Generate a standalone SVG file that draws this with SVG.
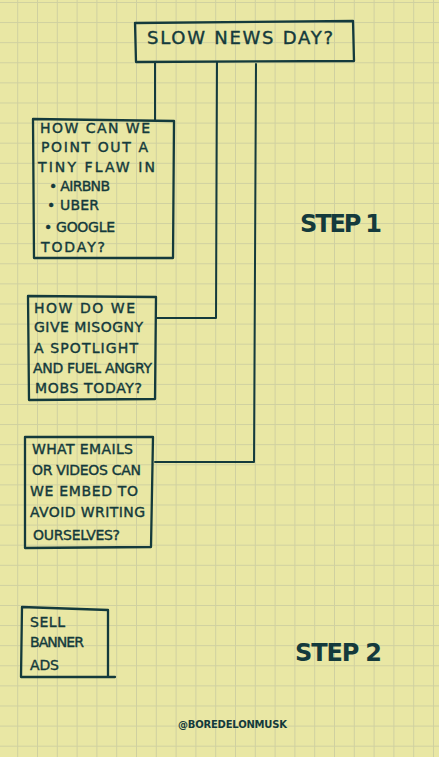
<svg xmlns="http://www.w3.org/2000/svg" width="439" height="757" viewBox="0 0 439 757">
<defs>
<pattern id="grid" x="-2.6" y="2" width="19.8" height="20.1" patternUnits="userSpaceOnUse">
<path d="M0 0.5 H19.8 M0.5 0 V20.1" fill="none" stroke="#cfd0a0" stroke-width="1"/>
</pattern>
<style>
.box{fill:none;stroke:#143a3c;stroke-width:2.3;stroke-linejoin:round;stroke-linecap:round}
.con{fill:none;stroke:#143a3c;stroke-width:2;stroke-linecap:round;stroke-linejoin:round}
.t{font-family:"DejaVu Sans","Liberation Sans",sans-serif;font-size:14px;fill:#143a3c;stroke:#143a3c;stroke-width:0.4}
.big{font-family:"DejaVu Sans","Liberation Sans",sans-serif;font-size:24px;font-weight:bold;fill:#143a3c}
.title{font-family:"DejaVu Sans","Liberation Sans",sans-serif;font-size:18px;fill:#143a3c;stroke:#143a3c;stroke-width:0.4}
.sig{font-family:"DejaVu Sans","Liberation Sans",sans-serif;font-size:10px;font-weight:bold;fill:#143a3c}
</style>
</defs>
<rect width="439" height="757" fill="#e9e7a4"/>
<rect width="439" height="757" fill="url(#grid)"/>

<g id="connectors">
<path class="con" d="M155 62 V120"/>
<path class="con" d="M217 62 L216 318 H156"/>
<path class="con" d="M256 64 L254 462 H155"/>
</g>

<g id="slow-news-day">
<path class="box" d="M135 23 L353 21 L354 61 L136 62 Z"/>
<text class="title" x="147" y="44" textLength="186" lengthAdjust="spacing">SLOW NEWS DAY?</text>
</g>

<g id="flaw">
<path class="box" d="M33 119 L174 121 L173 258 L34 258 Z"/>
<text class="t" x="40" y="133" textLength="110" lengthAdjust="spacing">HOW CAN WE</text>
<text class="t" x="41" y="152" textLength="107" lengthAdjust="spacing">POINT OUT A</text>
<text class="t" x="38" y="172" textLength="117" lengthAdjust="spacing">TINY FLAW IN</text>
<text class="t" x="49" y="191" textLength="61" lengthAdjust="spacing">• AIRBNB</text>
<text class="t" x="47" y="210" textLength="52" lengthAdjust="spacing">• UBER</text>
<text class="t" x="44" y="232" textLength="71" lengthAdjust="spacing">• GOOGLE</text>
<text class="t" x="41" y="252" textLength="64" lengthAdjust="spacing">TODAY?</text>
</g>

<g id="misogny">
<path class="box" d="M28 296 L156 297 L155 399 L29 400 Z"/>
<text class="t" x="34" y="313" textLength="101" lengthAdjust="spacing">HOW DO WE</text>
<text class="t" x="34" y="332" textLength="109" lengthAdjust="spacing">GIVE MISOGNY</text>
<text class="t" x="34" y="353" textLength="104" lengthAdjust="spacing">A SPOTLIGHT</text>
<text class="t" x="33" y="373" textLength="119" lengthAdjust="spacing">AND FUEL ANGRY</text>
<text class="t" x="35" y="393" textLength="107" lengthAdjust="spacing">MOBS TODAY?</text>
</g>

<g id="emails">
<path class="box" d="M25 437 L153 437 L151 547 L25 548 Z"/>
<text class="t" x="32" y="454" textLength="101" lengthAdjust="spacing">WHAT EMAILS</text>
<text class="t" x="32" y="475" textLength="109" lengthAdjust="spacing">OR VIDEOS CAN</text>
<text class="t" x="30" y="496" textLength="108" lengthAdjust="spacing">WE EMBED TO</text>
<text class="t" x="30" y="517" textLength="115" lengthAdjust="spacing">AVOID WRITING</text>
<text class="t" x="33" y="540" textLength="87" lengthAdjust="spacing">OURSELVES?</text>
</g>

<g id="banner">
<path class="box" d="M21 677 L22 607 L108 610 L108 677 M21 677 L115 677"/>
<text class="t" x="30" y="627" textLength="35" lengthAdjust="spacing">SELL</text>
<text class="t" x="30" y="647" textLength="54" lengthAdjust="spacing">BANNER</text>
<text class="t" x="30" y="670" textLength="29" lengthAdjust="spacing">ADS</text>
</g>

<g id="labels">
<text class="big" x="300" y="232" textLength="82" lengthAdjust="spacing">STEP 1</text>
<text class="big" x="295" y="661" textLength="87" lengthAdjust="spacing">STEP 2</text>
<text class="sig" x="178" y="728" textLength="109" lengthAdjust="spacing">@BOREDELONMUSK</text>
</g>
</svg>
